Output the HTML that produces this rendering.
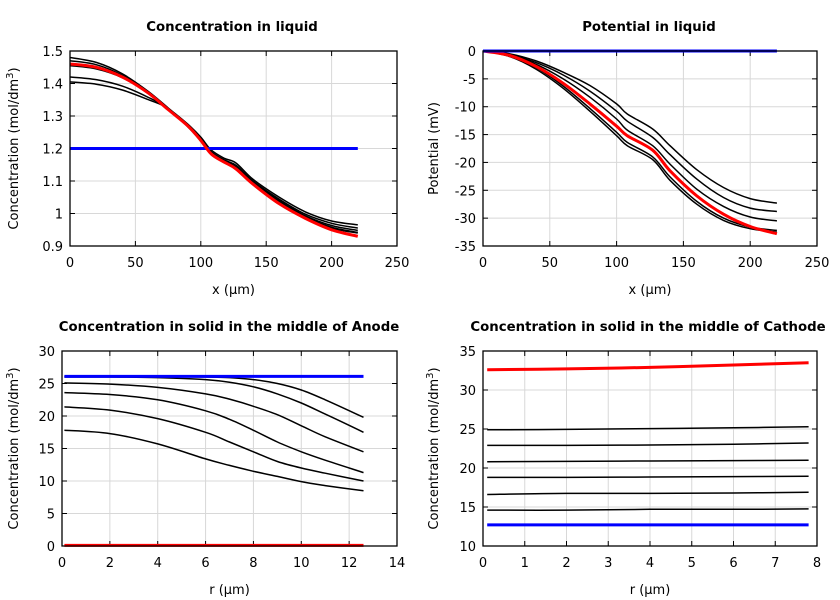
<!DOCTYPE html>
<html><head><meta charset="utf-8"><style>
body{margin:0;background:#fff}
svg{display:block;font-family:"DejaVu Sans","Liberation Sans",sans-serif}
</style></head><body>
<svg id="c" width="840" height="600"></svg>
<script>
// ---- Panel 1: Concentration in liquid ----
const liqX=[0,20,40,60,75,90,100,108,118,127,140,160,180,200,220];
const liqRed=[1.46,1.45,1.42,1.37,1.32,1.27,1.225,1.183,1.158,1.137,1.09,1.03,0.985,0.95,0.93];
const liqB1=[1.48,1.465,1.43,1.375,1.325,1.275,1.235,1.195,1.17,1.155,1.105,1.05,1.005,0.977,0.965];
const liqB2=[1.47,1.458,1.425,1.372,1.323,1.272,1.23,1.19,1.165,1.148,1.1,1.044,0.998,0.97,0.955];
const liqB3=[1.455,1.445,1.418,1.37,1.322,1.27,1.227,1.186,1.162,1.143,1.096,1.04,0.993,0.963,0.948];
const liqB4=[1.42,1.412,1.392,1.357,1.323,1.268,1.225,1.184,1.16,1.14,1.093,1.036,0.99,0.958,0.942];
const liqB5=[1.405,1.398,1.38,1.35,1.323,1.267,1.223,1.181,1.157,1.137,1.09,1.033,0.987,0.955,0.94];
const liqBlue=[1.2,1.2];const liqBlueX=[0,220];
// ---- Panel 2: Potential in liquid ----
const potX=[0,20,40,60,80,100,108,127,140,160,180,200,220];
const potRed=[0,-0.8,-2.8,-5.8,-9.5,-13.5,-15.2,-17.8,-21.5,-26,-29.3,-31.5,-32.8];
const potB1=[0,-0.5,-1.8,-3.8,-6.2,-9.5,-11.3,-14,-17,-21.3,-24.5,-26.5,-27.3];
const potB2=[0,-0.6,-2.1,-4.3,-7.2,-10.8,-12.6,-15.5,-18.6,-23,-26.3,-28.2,-28.8];
const potB3=[0,-0.7,-2.4,-5,-8.3,-12.2,-14.2,-17,-20.3,-24.8,-27.9,-29.8,-30.5];
const potB4=[0,-0.9,-3,-6.3,-10.3,-14.6,-16.4,-19,-22.6,-27,-30,-31.6,-32.2];
const potB5=[0,-1,-3.3,-6.7,-10.8,-15.2,-17,-19.5,-23.2,-27.5,-30.4,-31.9,-32.5];
const potBlue=[0,0];const potBlueX=[0,220];
// ---- Panel 3: Anode solid ----
const anR=[0.1,2,4,6,7,8,9,10,11,12.6];
const anC1=[26.1,26.1,26.1,26.0,25.9,25.6,25.0,24.0,22.5,19.8];
const anC2=[26.0,26.0,25.9,25.6,25.2,24.5,23.4,22.0,20.3,17.5];
const anC3=[25.1,24.9,24.4,23.4,22.6,21.5,20.2,18.5,16.8,14.5];
const anC4=[23.6,23.3,22.5,20.8,19.5,17.8,16.0,14.5,13.2,11.3];
const anC5=[21.4,20.9,19.6,17.5,16.0,14.5,13.0,12.0,11.2,10.0];
const anC6=[17.8,17.3,15.7,13.4,12.4,11.5,10.7,9.9,9.3,8.5];
const anBlue=[26.1,26.1];const anRed=[0.1,0.1];const anEnds=[0.1,12.6];
// ---- Panel 4: Cathode solid ----
const caR=[0.1,2,4,6,7.8];
const caRed=[32.6,32.7,32.9,33.2,33.5];
const caC1=[24.9,24.95,25.05,25.15,25.3];
const caC2=[22.9,22.9,22.95,23.05,23.2];
const caC3=[20.8,20.85,20.9,20.95,21.0];
const caC4=[18.8,18.8,18.85,18.9,18.95];
const caC5=[16.6,16.75,16.75,16.8,16.9];
const caC6=[14.6,14.6,14.7,14.7,14.75];
const caBlue=[12.7,12.7];const caEnds=[0.1,7.8];

const NS="http://www.w3.org/2000/svg";
const svg=document.getElementById('c');
function mk(tag,attrs,parent){const e=document.createElementNS(NS,tag);for(const k in attrs)e.setAttribute(k,attrs[k]);(parent||svg).appendChild(e);return e;}
function smooth(pts){
  if(pts.length<3)return pts.map((p,i)=>(i?'L':'M')+p[0].toFixed(1)+','+p[1].toFixed(1)).join('');
  let d='M'+pts[0][0].toFixed(1)+','+pts[0][1].toFixed(1);
  for(let i=0;i<pts.length-1;i++){
    const p0=pts[i-1]||pts[i],p1=pts[i],p2=pts[i+1],p3=pts[i+2]||p2;
    const c1x=p1[0]+(p2[0]-p0[0])/6,c1y=p1[1]+(p2[1]-p0[1])/6;
    const c2x=p2[0]-(p3[0]-p1[0])/6,c2y=p2[1]-(p3[1]-p1[1])/6;
    d+='C'+c1x.toFixed(1)+','+c1y.toFixed(1)+' '+c2x.toFixed(1)+','+c2y.toFixed(1)+' '+p2[0].toFixed(1)+','+p2[1].toFixed(1);
  }
  return d;
}
function panel(o){
  const g=mk('g',{});
  
  
  const sx=v=>o.x0+(v-o.xmin)/(o.xmax-o.xmin)*(o.x1-o.x0);
  const sy=v=>o.y1-(v-o.ymin)/(o.ymax-o.ymin)*(o.y1-o.y0);
  o.xt.forEach(t=>{
    const x=sx(t);
    const gl=mk('line',{x1:x,x2:x,y1:o.y0,y2:o.y1,stroke:'#d8d8d8','stroke-width':1},g);
    
    mk('line',{x1:x,x2:x,y1:o.y1,y2:o.y1-5,stroke:'#000'},g);
    mk('line',{x1:x,x2:x,y1:o.y0,y2:o.y0+5,stroke:'#000'},g);
    const tx=mk('text',{x:x,y:o.y1+21,'text-anchor':'middle','font-size':13},g);tx.textContent=t;
    
  });
  o.yt.forEach(t=>{
    const y=sy(t);
    const gl=mk('line',{x1:o.x0,x2:o.x1,y1:y,y2:y,stroke:'#d8d8d8','stroke-width':1},g);
    
    mk('line',{x1:o.x0,x2:o.x0+5,y1:y,y2:y,stroke:'#000'},g);
    mk('line',{x1:o.x1,x2:o.x1-5,y1:y,y2:y,stroke:'#000'},g);
    const tx=mk('text',{x:o.x0-7,y:y+5,'text-anchor':'end','font-size':13},g);tx.textContent=t;
    
  });
  const clipId='cl'+o.name;
  const cp=mk('clipPath',{id:clipId},g);mk('rect',{x:o.x0,y:o.y0-3,width:o.x1-o.x0,height:o.y1-o.y0+6},cp);
  o.series.forEach(s=>{
    const d=smooth(s.x.map((v,i)=>[sx(v),sy(s.y[i])]));
    const p=mk('path',{d:d,fill:'none',stroke:s.c,'stroke-width':s.w,'stroke-linejoin':'round','clip-path':'url(#'+clipId+')'},g);
    
    
  });
  const fr=mk('rect',{x:o.x0,y:o.y0,width:o.x1-o.x0,height:o.y1-o.y0,fill:'none',stroke:'#000','stroke-width':1.3},g);
  
  const ti=mk('text',{x:o.tx,y:o.y0-20,'text-anchor':'middle','font-size':13.3,'font-weight':'bold'},g);ti.textContent=o.title;
  
  const xl=mk('text',{x:(o.x0+o.x1)/2,y:o.y1+48,'text-anchor':'middle','font-size':13},g);xl.textContent=o.xlabel;
  
  const yl=mk('text',{x:0,y:0,'text-anchor':'middle','font-size':13,transform:'translate('+o.ylx+','+((o.y0+o.y1)/2)+') rotate(-90)'},g);
  if(o.sup){yl.innerHTML='Concentration (mol/dm<tspan dy="-5" font-size="10">3</tspan><tspan dy="5">)</tspan>';}
  else yl.textContent=o.ylabel;
  
}
const K='#000',R='#f00',B='#00f';
panel({name:'liquid-concentration-chart',title:'Concentration in liquid',x0:70,x1:397,y0:51,y1:246,xmin:0,xmax:250,ymin:0.9,ymax:1.5,
 xt:[0,50,100,150,200,250],yt:[0.9,1,1.1,1.2,1.3,1.4,1.5],xlabel:'x (µm)',sup:true,ylx:18,tx:232,
 series:[
  {x:liqX,y:liqB5,c:K,w:1.5,n:'black-curve-1'},{x:liqX,y:liqB4,c:K,w:1.5,n:'black-curve-2'},
  {x:liqX,y:liqB3,c:K,w:1.5,n:'black-curve-3'},{x:liqX,y:liqB2,c:K,w:1.5,n:'black-curve-4'},
  {x:liqX,y:liqB1,c:K,w:1.5,n:'black-curve-5'},
  {x:liqBlueX,y:liqBlue,c:B,w:3,n:'initial-line'},{x:liqX,y:liqRed,c:R,w:3,n:'final-line'}]});
panel({name:'liquid-potential-chart',title:'Potential in liquid',x0:483,x1:817,y0:51,y1:246,xmin:0,xmax:250,ymin:-35,ymax:0,
 xt:[0,50,100,150,200,250],yt:[-35,-30,-25,-20,-15,-10,-5,0],xlabel:'x (µm)',ylabel:'Potential (mV)',ylx:438,tx:649,
 series:[
  {x:potX,y:potB1,c:K,w:1.5,n:'black-curve-1'},{x:potX,y:potB2,c:K,w:1.5,n:'black-curve-2'},
  {x:potX,y:potB3,c:K,w:1.5,n:'black-curve-3'},{x:potX,y:potB4,c:K,w:1.5,n:'black-curve-4'},
  {x:potX,y:potB5,c:K,w:1.5,n:'black-curve-5'},
  {x:potX,y:potRed,c:R,w:3,n:'final-line'},{x:potBlueX,y:potBlue,c:B,w:3,n:'initial-line'}]});
panel({name:'anode-solid-chart',title:'Concentration in solid in the middle of Anode',x0:62,x1:397,y0:351,y1:546,xmin:0,xmax:14,ymin:0,ymax:30,
 xt:[0,2,4,6,8,10,12,14],yt:[0,5,10,15,20,25,30],xlabel:'r (µm)',sup:true,ylx:18,tx:229,
 series:[
  {x:anR,y:anC1,c:K,w:1.5,n:'black-curve-1'},{x:anR,y:anC2,c:K,w:1.5,n:'black-curve-2'},
  {x:anR,y:anC3,c:K,w:1.5,n:'black-curve-3'},{x:anR,y:anC4,c:K,w:1.5,n:'black-curve-4'},
  {x:anR,y:anC5,c:K,w:1.5,n:'black-curve-5'},{x:anR,y:anC6,c:K,w:1.5,n:'black-curve-6'},
  {x:anEnds,y:anBlue,c:B,w:3,n:'initial-line'},{x:anEnds,y:anRed,c:R,w:3,n:'final-line'}]});
panel({name:'cathode-solid-chart',title:'Concentration in solid in the middle of Cathode',x0:483,x1:817,y0:351,y1:546,xmin:0,xmax:8,ymin:10,ymax:35,
 xt:[0,1,2,3,4,5,6,7,8],yt:[10,15,20,25,30,35],xlabel:'r (µm)',sup:true,ylx:438,tx:648,
 series:[
  {x:caR,y:caC1,c:K,w:1.5,n:'black-curve-1'},{x:caR,y:caC2,c:K,w:1.5,n:'black-curve-2'},
  {x:caR,y:caC3,c:K,w:1.5,n:'black-curve-3'},{x:caR,y:caC4,c:K,w:1.5,n:'black-curve-4'},
  {x:caR,y:caC5,c:K,w:1.5,n:'black-curve-5'},{x:caR,y:caC6,c:K,w:1.5,n:'black-curve-6'},
  {x:caEnds,y:caBlue,c:B,w:3,n:'initial-line'},{x:caR,y:caRed,c:R,w:3,n:'final-line'}]});
</script>
</body></html>
